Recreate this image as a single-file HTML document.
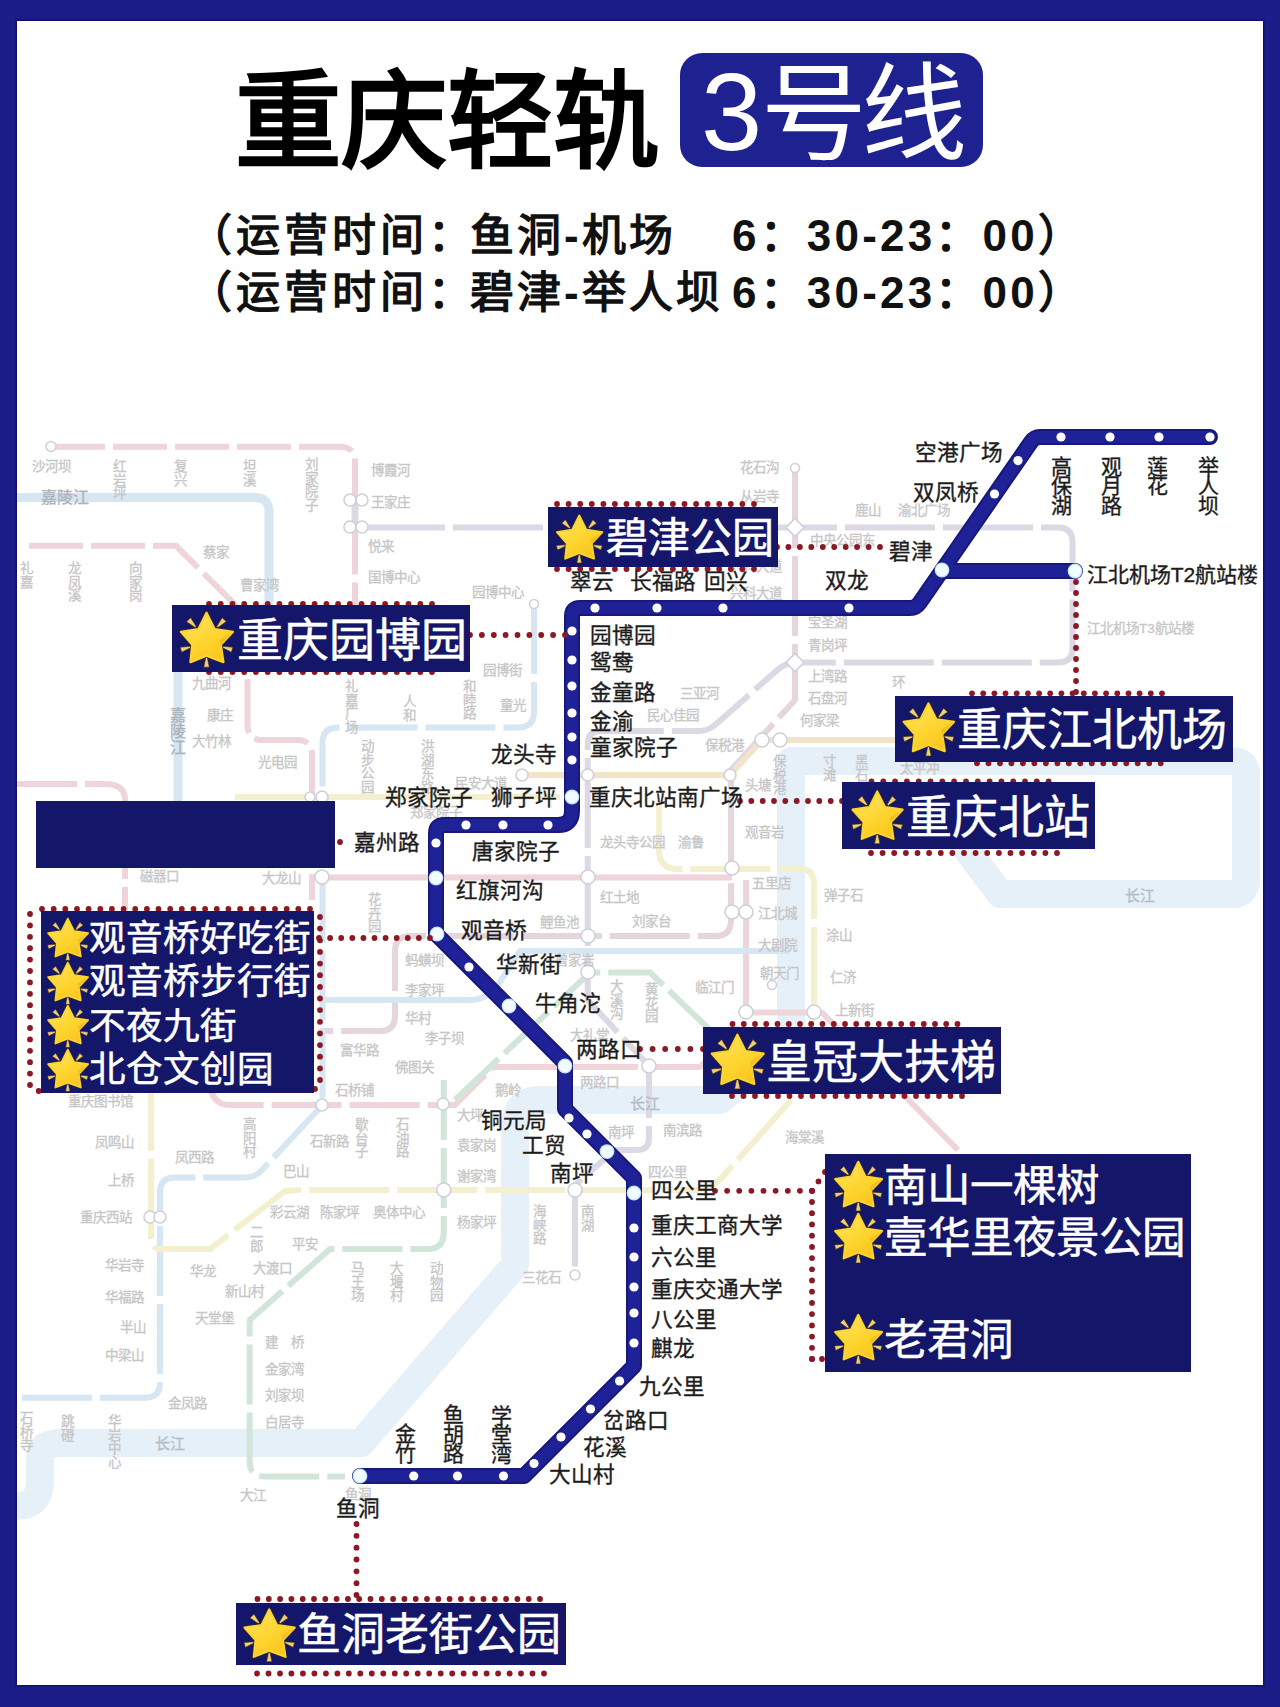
<!DOCTYPE html>
<html lang="zh-CN"><head><meta charset="utf-8">
<style>
html,body{margin:0;padding:0;}
body{width:1280px;height:1707px;position:relative;overflow:hidden;background:#1b1c87;font-family:"Liberation Sans", sans-serif;}
.panel{position:absolute;left:17px;top:21px;width:1246px;height:1664px;background:#fff;box-shadow:0 0 0 1.5px #10106a;}
.t{position:absolute;white-space:nowrap;line-height:1;}
.lb{-webkit-text-stroke:0.35px #1c1c1c;}
.v{text-align:center;}
.w{color:#fff;-webkit-text-stroke:0.5px #fff;}
.box{position:absolute;background:#14166a;}
.st{position:absolute;overflow:visible;}
svg.layer{position:absolute;left:0;top:0;}
.title{position:absolute;left:234.5px;top:70px;font-size:106.5px;font-weight:bold;color:#000;line-height:1;white-space:nowrap;}
.badge{position:absolute;left:680px;top:53px;width:303px;height:114px;border-radius:22px;background:#1e2190;}
.badge span{position:absolute;color:#fff;line-height:1;white-space:nowrap;}
.sub{position:absolute;font-size:44px;letter-spacing:4px;font-weight:bold;color:#111;line-height:1;white-space:nowrap;}
</style></head>
<body>
<div class="panel"></div>
<svg class="layer" width="1280" height="1707" viewBox="0 0 1280 1707"><path d="M17,1506 Q40,1506 40,1480 L40,1458 Q40,1443 60,1443 L361,1443 L515,1265 L515,1128 Q515,1100 540,1100 L720,1100 L791,1040 L791,761 L1232,761 Q1246,761 1246,775 L1246,880 Q1246,894 1232,894 L1000,894 L930,800" fill="none" stroke="#e6f0f8" stroke-width="28" stroke-linejoin="round" stroke-linecap="butt"/><path d="M17,497.5 L255,497.5 Q269,497.5 269,512 L269,605 L178,660 L178,805" fill="none" stroke="#d6e6f2" stroke-width="9" stroke-linejoin="round" stroke-linecap="butt"/><path d="M51,446.75 L340,446.75 Q355,446.75 355,462 L355,610" fill="none" stroke="#efd5da" stroke-width="6" stroke-linejoin="round" stroke-linecap="butt" stroke-dasharray="54 8"/><path d="M29,545.75 L176,545.75 L247.5,617 L247.5,725 Q247.5,740 262,740 L297,740 Q312,740 312,755 L312,900" fill="none" stroke="#efd5da" stroke-width="6" stroke-linejoin="round" stroke-linecap="butt" stroke-dasharray="54 8"/><path d="M17,784 L105,784 Q125,784 125,800 L125,910" fill="none" stroke="#efd5da" stroke-width="6" stroke-linejoin="round" stroke-linecap="butt" stroke-dasharray="60 8"/><path d="M322,877.5 L732,877.5" fill="none" stroke="#efd5da" stroke-width="6" stroke-linejoin="round" stroke-linecap="butt"/><path d="M746,880 L746,1012.5 L822,1012.5 L958,1150" fill="none" stroke="#efd5da" stroke-width="6" stroke-linejoin="round" stroke-linecap="butt"/><path d="M210,1080 Q210,1105 230,1105 L455,1105 L493,1067 L700,1067 L740,1027" fill="none" stroke="#efd5da" stroke-width="6" stroke-linejoin="round" stroke-linecap="butt" stroke-dasharray="70 8"/><path d="M795,468 L795,700 L731,770 L731,920 Q731,936 716,936 L410,936 Q395,936 395,951 L395,1016 Q395,1031 380,1031 L320,1031" fill="none" stroke="#e4d6dc" stroke-width="6" stroke-linejoin="round" stroke-linecap="butt" stroke-dasharray="80 8"/><path d="M355,527.5 L1058,527.5 Q1072.5,527.5 1072.5,542 L1072.5,648 Q1072.5,662.5 1058,662.5 L795,662.5 Q785,662.5 775,672 L715,725 Q708,731 698,731 L600,731 Q587.7,731 587.7,745 L587.7,1000 L649,1066 L649,1138 Q649,1150 637,1150 L615,1150 L575,1185 L575,1275" fill="none" stroke="#dcd9e5" stroke-width="6" stroke-linejoin="round" stroke-linecap="butt" stroke-dasharray="90 8"/><path d="M355,495 L355,527.5" fill="none" stroke="#dcd9e5" stroke-width="7" stroke-linejoin="round" stroke-linecap="butt"/><path d="M534,604 L534,712 Q534,727.5 518,727.5 L338,727.5 Q322.5,727.5 322.5,743 L322.5,1105 L262,1170 Q255,1177.5 245,1177.5 L175,1177.5 Q160,1177.5 160,1192 L160,1383 Q160,1397.7 145,1397.7 L17,1397.7" fill="none" stroke="#d6e6f2" stroke-width="6" stroke-linejoin="round" stroke-linecap="butt" stroke-dasharray="70 8"/><path d="M322,1000 L470,1000 Q488,1000 500,982 L520,951 L790,951" fill="none" stroke="#d6e6f2" stroke-width="6" stroke-linejoin="round" stroke-linecap="butt"/><path d="M522,775 L730,775 L762,740 L900,740" fill="none" stroke="#f2e3cb" stroke-width="6" stroke-linejoin="round" stroke-linecap="butt"/><path d="M235,797 L560,797" fill="none" stroke="#f3efcf" stroke-width="6" stroke-linejoin="round" stroke-linecap="butt"/><path d="M659,805 L659,850 Q659,869 678,869 L800,869 Q814,869 814,884 L814,1012 L791,1100 L725,1174 Q712,1190 695,1190 L300,1190 L285,1191 L210,1249 L160,1249 Q151,1249 151,1235 L151,1080" fill="none" stroke="#f3efcf" stroke-width="6" stroke-linejoin="round" stroke-linecap="butt" stroke-dasharray="80 8"/><path d="M455,1100 L590,972.5 L650,972.5 L710,1030" fill="none" stroke="#d2e5d9" stroke-width="6" stroke-linejoin="round" stroke-linecap="butt" stroke-dasharray="60 8"/><path d="M443.75,1080 L443.75,1232 Q443.75,1249 428,1249 L330,1249 L249.7,1320 L249.7,1462 Q249.7,1476.6 265,1476.6 L345,1476.6" fill="none" stroke="#d2e5d9" stroke-width="6" stroke-linejoin="round" stroke-linecap="butt" stroke-dasharray="60 8"/><circle cx="51" cy="446.5" r="5" fill="#fff" stroke="#cfd0d8" stroke-width="1.6"/><circle cx="350" cy="500" r="6" fill="#fff" stroke="#cfd0d8" stroke-width="1.6"/><circle cx="362" cy="500" r="6" fill="#fff" stroke="#cfd0d8" stroke-width="1.6"/><circle cx="350" cy="527" r="6" fill="#fff" stroke="#cfd0d8" stroke-width="1.6"/><circle cx="362" cy="527" r="6" fill="#fff" stroke="#cfd0d8" stroke-width="1.6"/><circle cx="534" cy="604" r="4.5" fill="#fff" stroke="#cfd0d8" stroke-width="1.6"/><circle cx="795" cy="468" r="4.5" fill="#fff" stroke="#cfd0d8" stroke-width="1.6"/><circle cx="322" cy="797" r="6" fill="#fff" stroke="#cfd0d8" stroke-width="1.6"/><circle cx="310" cy="797" r="5" fill="#fff" stroke="#cfd0d8" stroke-width="1.6"/><circle cx="522" cy="775" r="6" fill="#fff" stroke="#cfd0d8" stroke-width="1.6"/><circle cx="587.7" cy="775" r="6" fill="#fff" stroke="#cfd0d8" stroke-width="1.6"/><circle cx="730" cy="775" r="6" fill="#fff" stroke="#cfd0d8" stroke-width="1.6"/><circle cx="762" cy="740" r="7" fill="#fff" stroke="#cfd0d8" stroke-width="1.6"/><circle cx="780" cy="740" r="7" fill="#fff" stroke="#cfd0d8" stroke-width="1.6"/><circle cx="588" cy="877" r="7" fill="#fff" stroke="#cfd0d8" stroke-width="1.6"/><circle cx="732" cy="868" r="7" fill="#fff" stroke="#cfd0d8" stroke-width="1.6"/><circle cx="588" cy="936" r="7" fill="#fff" stroke="#cfd0d8" stroke-width="1.6"/><circle cx="588" cy="972" r="7" fill="#fff" stroke="#cfd0d8" stroke-width="1.6"/><circle cx="322" cy="877" r="7" fill="#fff" stroke="#cfd0d8" stroke-width="1.6"/><circle cx="746" cy="912" r="7" fill="#fff" stroke="#cfd0d8" stroke-width="1.6"/><circle cx="732" cy="912" r="7" fill="#fff" stroke="#cfd0d8" stroke-width="1.6"/><circle cx="649" cy="1066" r="7" fill="#fff" stroke="#cfd0d8" stroke-width="1.6"/><circle cx="772" cy="985" r="4.5" fill="#fff" stroke="#cfd0d8" stroke-width="1.6"/><circle cx="814" cy="1012" r="7" fill="#fff" stroke="#cfd0d8" stroke-width="1.6"/><circle cx="746" cy="1012" r="7" fill="#fff" stroke="#cfd0d8" stroke-width="1.6"/><circle cx="322" cy="1105" r="6" fill="#fff" stroke="#cfd0d8" stroke-width="1.6"/><circle cx="443" cy="1104" r="6" fill="#fff" stroke="#cfd0d8" stroke-width="1.6"/><circle cx="443.75" cy="1190" r="7" fill="#fff" stroke="#cfd0d8" stroke-width="1.6"/><circle cx="575" cy="1190" r="7" fill="#fff" stroke="#cfd0d8" stroke-width="1.6"/><circle cx="575" cy="1275" r="5" fill="#fff" stroke="#cfd0d8" stroke-width="1.6"/><circle cx="150" cy="1217" r="6" fill="#fff" stroke="#cfd0d8" stroke-width="1.6"/><circle cx="160" cy="1217" r="6" fill="#fff" stroke="#cfd0d8" stroke-width="1.6"/><circle cx="360" cy="1476" r="5" fill="#fff" stroke="#cfd0d8" stroke-width="1.6"/><path d="M795,518.5 L804,527.5 L795,536.5 L786,527.5 Z" fill="#fff" stroke="#d0d0d8" stroke-width="1.6"/><path d="M795,653.5 L804,662.5 L795,671.5 L786,662.5 Z" fill="#fff" stroke="#d0d0d8" stroke-width="1.6"/></svg>
<div class="t" style="left:32px;top:459.7px;font-size:13.5px;color:#c6c6c6;-webkit-text-stroke:0.3px #c6c6c6">沙河坝</div><div class="t v" style="left:113.2px;top:460px;width:13.5px;font-size:13.5px;line-height:13.5px;color:#c6c6c6;-webkit-text-stroke:0.3px #c6c6c6">红<br>岩<br>坪</div><div class="t v" style="left:174.2px;top:460px;width:13.5px;font-size:13.5px;line-height:13.5px;color:#c6c6c6;-webkit-text-stroke:0.3px #c6c6c6">复<br>兴</div><div class="t v" style="left:243.2px;top:460px;width:13.5px;font-size:13.5px;line-height:13.5px;color:#c6c6c6;-webkit-text-stroke:0.3px #c6c6c6">坦<br>溪</div><div class="t v" style="left:305.2px;top:458px;width:13.5px;font-size:13.5px;line-height:13.5px;color:#c6c6c6;-webkit-text-stroke:0.3px #c6c6c6">刘<br>家<br>院<br>子</div><div class="t" style="left:41px;top:489.5px;font-size:16px;color:#aab2ba;-webkit-text-stroke:0.3px #aab2ba">嘉陵江</div><div class="t" style="left:203px;top:545.7px;font-size:13.5px;color:#c6c6c6;-webkit-text-stroke:0.3px #c6c6c6">蔡家</div><div class="t v" style="left:20.2px;top:562px;width:13.5px;font-size:13.5px;line-height:13.5px;color:#c6c6c6;-webkit-text-stroke:0.3px #c6c6c6">礼<br>嘉</div><div class="t v" style="left:68.2px;top:562px;width:13.5px;font-size:13.5px;line-height:13.5px;color:#c6c6c6;-webkit-text-stroke:0.3px #c6c6c6">龙<br>凤<br>溪</div><div class="t v" style="left:129.2px;top:562px;width:13.5px;font-size:13.5px;line-height:13.5px;color:#c6c6c6;-webkit-text-stroke:0.3px #c6c6c6">向<br>家<br>岗</div><div class="t" style="left:240px;top:578.7px;font-size:13.5px;color:#c6c6c6;-webkit-text-stroke:0.3px #c6c6c6">曹家湾</div><div class="t" style="left:371px;top:463.7px;font-size:13.5px;color:#c6c6c6;-webkit-text-stroke:0.3px #c6c6c6">博霞河</div><div class="t" style="left:371px;top:495.7px;font-size:13.5px;color:#c6c6c6;-webkit-text-stroke:0.3px #c6c6c6">王家庄</div><div class="t" style="left:368px;top:539.7px;font-size:13.5px;color:#c6c6c6;-webkit-text-stroke:0.3px #c6c6c6">悦来</div><div class="t" style="left:368px;top:570.7px;font-size:13.5px;color:#c6c6c6;-webkit-text-stroke:0.3px #c6c6c6">国博中心</div><div class="t" style="left:472px;top:585.7px;font-size:13.5px;color:#c6c6c6;-webkit-text-stroke:0.3px #c6c6c6">园博中心</div><div class="t" style="left:740px;top:460.7px;font-size:13.5px;color:#c6c6c6;-webkit-text-stroke:0.3px #c6c6c6">花石沟</div><div class="t" style="left:740px;top:489.7px;font-size:13.5px;color:#c6c6c6;-webkit-text-stroke:0.3px #c6c6c6">从岩寺</div><div class="t" style="left:855px;top:503.7px;font-size:13.5px;color:#c6c6c6;-webkit-text-stroke:0.3px #c6c6c6">鹿山</div><div class="t" style="left:898px;top:503.7px;font-size:13.5px;color:#c6c6c6;-webkit-text-stroke:0.3px #c6c6c6">渝北广场</div><div class="t" style="left:810px;top:533.7px;font-size:13.5px;color:#c6c6c6;-webkit-text-stroke:0.3px #c6c6c6">中央公园东</div><div class="t" style="left:730px;top:559.7px;font-size:13.5px;color:#c6c6c6;-webkit-text-stroke:0.3px #c6c6c6">兴科大道</div><div class="t" style="left:730px;top:586.7px;font-size:13.5px;color:#c6c6c6;-webkit-text-stroke:0.3px #c6c6c6">兴科大道</div><div class="t" style="left:808px;top:615.7px;font-size:13.5px;color:#c6c6c6;-webkit-text-stroke:0.3px #c6c6c6">宝圣湖</div><div class="t" style="left:808px;top:638.7px;font-size:13.5px;color:#c6c6c6;-webkit-text-stroke:0.3px #c6c6c6">青岗坪</div><div class="t" style="left:1087px;top:621.7px;font-size:13.5px;color:#c6c6c6;-webkit-text-stroke:0.3px #c6c6c6">江北机场T3航站楼</div><div class="t" style="left:192px;top:676.7px;font-size:13.5px;color:#c6c6c6;-webkit-text-stroke:0.3px #c6c6c6">九曲河</div><div class="t" style="left:207px;top:708.7px;font-size:13.5px;color:#c6c6c6;-webkit-text-stroke:0.3px #c6c6c6">康庄</div><div class="t" style="left:192px;top:734.7px;font-size:13.5px;color:#c6c6c6;-webkit-text-stroke:0.3px #c6c6c6">大竹林</div><div class="t" style="left:258px;top:755.7px;font-size:13.5px;color:#c6c6c6;-webkit-text-stroke:0.3px #c6c6c6">光电园</div><div class="t v" style="left:170.0px;top:708px;width:16px;font-size:16px;line-height:16px;color:#aab2ba;-webkit-text-stroke:0.3px #aab2ba">嘉<br>陵<br>江</div><div class="t v" style="left:345.2px;top:680px;width:13.5px;font-size:13.5px;line-height:13.5px;color:#c6c6c6;-webkit-text-stroke:0.3px #c6c6c6">礼<br>嘉<br>广<br>场</div><div class="t v" style="left:403.2px;top:695px;width:13.5px;font-size:13.5px;line-height:13.5px;color:#c6c6c6;-webkit-text-stroke:0.3px #c6c6c6">人<br>和</div><div class="t v" style="left:463.2px;top:680px;width:13.5px;font-size:13.5px;line-height:13.5px;color:#c6c6c6;-webkit-text-stroke:0.3px #c6c6c6">和<br>睦<br>路</div><div class="t" style="left:483px;top:663.7px;font-size:13.5px;color:#c6c6c6;-webkit-text-stroke:0.3px #c6c6c6">园博街</div><div class="t" style="left:500px;top:698.7px;font-size:13.5px;color:#c6c6c6;-webkit-text-stroke:0.3px #c6c6c6">童光</div><div class="t v" style="left:361.2px;top:740px;width:13.5px;font-size:13.5px;line-height:13.5px;color:#c6c6c6;-webkit-text-stroke:0.3px #c6c6c6">动<br>步<br>公<br>园</div><div class="t v" style="left:421.2px;top:740px;width:13.5px;font-size:13.5px;line-height:13.5px;color:#c6c6c6;-webkit-text-stroke:0.3px #c6c6c6">洪<br>湖<br>东<br>路</div><div class="t" style="left:455px;top:776.7px;font-size:13.5px;color:#c6c6c6;-webkit-text-stroke:0.3px #c6c6c6">民安大道</div><div class="t" style="left:410px;top:805.7px;font-size:13.5px;color:#c6c6c6;-webkit-text-stroke:0.3px #c6c6c6">郑家院子</div><div class="t" style="left:680px;top:686.7px;font-size:13.5px;color:#c6c6c6;-webkit-text-stroke:0.3px #c6c6c6">三亚河</div><div class="t" style="left:647px;top:708.7px;font-size:13.5px;color:#c6c6c6;-webkit-text-stroke:0.3px #c6c6c6">民心佳园</div><div class="t" style="left:705px;top:738.7px;font-size:13.5px;color:#c6c6c6;-webkit-text-stroke:0.3px #c6c6c6">保税港</div><div class="t" style="left:808px;top:669.7px;font-size:13.5px;color:#c6c6c6;-webkit-text-stroke:0.3px #c6c6c6">上湾路</div><div class="t" style="left:808px;top:691.7px;font-size:13.5px;color:#c6c6c6;-webkit-text-stroke:0.3px #c6c6c6">石盘河</div><div class="t" style="left:800px;top:713.7px;font-size:13.5px;color:#c6c6c6;-webkit-text-stroke:0.3px #c6c6c6">何家梁</div><div class="t" style="left:745px;top:778.7px;font-size:13.5px;color:#c6c6c6;-webkit-text-stroke:0.3px #c6c6c6">头塘</div><div class="t v" style="left:773.2px;top:755px;width:13.5px;font-size:13.5px;line-height:13.5px;color:#c6c6c6;-webkit-text-stroke:0.3px #c6c6c6">保<br>税<br>港</div><div class="t" style="left:745px;top:825.7px;font-size:13.5px;color:#c6c6c6;-webkit-text-stroke:0.3px #c6c6c6">观音岩</div><div class="t" style="left:600px;top:835.7px;font-size:13.5px;color:#c6c6c6;-webkit-text-stroke:0.3px #c6c6c6">龙头寺公园</div><div class="t" style="left:678px;top:835.7px;font-size:13.5px;color:#c6c6c6;-webkit-text-stroke:0.3px #c6c6c6">渝鲁</div><div class="t" style="left:892px;top:675.7px;font-size:13.5px;color:#c6c6c6;-webkit-text-stroke:0.3px #c6c6c6">环</div><div class="t v" style="left:823.2px;top:755px;width:13.5px;font-size:13.5px;line-height:13.5px;color:#c6c6c6;-webkit-text-stroke:0.3px #c6c6c6">寸<br>滩</div><div class="t v" style="left:855.2px;top:755px;width:13.5px;font-size:13.5px;line-height:13.5px;color:#c6c6c6;-webkit-text-stroke:0.3px #c6c6c6">黑<br>石<br>子</div><div class="t" style="left:900px;top:761.7px;font-size:13.5px;color:#c6c6c6;-webkit-text-stroke:0.3px #c6c6c6">太平冲</div><div class="t" style="left:752px;top:876.7px;font-size:13.5px;color:#c6c6c6;-webkit-text-stroke:0.3px #c6c6c6">五里店</div><div class="t" style="left:600px;top:890.7px;font-size:13.5px;color:#c6c6c6;-webkit-text-stroke:0.3px #c6c6c6">红土地</div><div class="t" style="left:632px;top:914.7px;font-size:13.5px;color:#c6c6c6;-webkit-text-stroke:0.3px #c6c6c6">刘家台</div><div class="t" style="left:758px;top:906.7px;font-size:13.5px;color:#c6c6c6;-webkit-text-stroke:0.3px #c6c6c6">江北城</div><div class="t" style="left:824px;top:888.7px;font-size:13.5px;color:#c6c6c6;-webkit-text-stroke:0.3px #c6c6c6">弹子石</div><div class="t" style="left:758px;top:938.7px;font-size:13.5px;color:#c6c6c6;-webkit-text-stroke:0.3px #c6c6c6">大剧院</div><div class="t" style="left:826px;top:928.7px;font-size:13.5px;color:#c6c6c6;-webkit-text-stroke:0.3px #c6c6c6">涂山</div><div class="t" style="left:760px;top:966.7px;font-size:13.5px;color:#c6c6c6;-webkit-text-stroke:0.3px #c6c6c6">朝天门</div><div class="t" style="left:830px;top:970.7px;font-size:13.5px;color:#c6c6c6;-webkit-text-stroke:0.3px #c6c6c6">仁济</div><div class="t" style="left:695px;top:980.7px;font-size:13.5px;color:#c6c6c6;-webkit-text-stroke:0.3px #c6c6c6">临江门</div><div class="t v" style="left:610.2px;top:980px;width:13.5px;font-size:13.5px;line-height:13.5px;color:#c6c6c6;-webkit-text-stroke:0.3px #c6c6c6">大<br>溪<br>沟</div><div class="t v" style="left:645.2px;top:983px;width:13.5px;font-size:13.5px;line-height:13.5px;color:#c6c6c6;-webkit-text-stroke:0.3px #c6c6c6">黄<br>花<br>园</div><div class="t" style="left:835px;top:1003.7px;font-size:13.5px;color:#c6c6c6;-webkit-text-stroke:0.3px #c6c6c6">上新街</div><div class="t" style="left:570px;top:1028.7px;font-size:13.5px;color:#c6c6c6;-webkit-text-stroke:0.3px #c6c6c6">大礼堂</div><div class="t" style="left:140px;top:869.7px;font-size:13.5px;color:#c6c6c6;-webkit-text-stroke:0.3px #c6c6c6">磁器口</div><div class="t" style="left:262px;top:871.7px;font-size:13.5px;color:#c6c6c6;-webkit-text-stroke:0.3px #c6c6c6">大龙山</div><div class="t v" style="left:368.2px;top:893px;width:13.5px;font-size:13.5px;line-height:13.5px;color:#c6c6c6;-webkit-text-stroke:0.3px #c6c6c6">花<br>卉<br>园</div><div class="t" style="left:540px;top:915.7px;font-size:13.5px;color:#c6c6c6;-webkit-text-stroke:0.3px #c6c6c6">鲤鱼池</div><div class="t" style="left:1125px;top:888.0px;font-size:15px;color:#b4bcc4;-webkit-text-stroke:0.3px #b4bcc4">长江</div><div class="t" style="left:405px;top:953.7px;font-size:13.5px;color:#c6c6c6;-webkit-text-stroke:0.3px #c6c6c6">蚂蟥坝</div><div class="t" style="left:405px;top:983.7px;font-size:13.5px;color:#c6c6c6;-webkit-text-stroke:0.3px #c6c6c6">李家坪</div><div class="t" style="left:405px;top:1011.7px;font-size:13.5px;color:#c6c6c6;-webkit-text-stroke:0.3px #c6c6c6">华村</div><div class="t" style="left:425px;top:1031.7px;font-size:13.5px;color:#c6c6c6;-webkit-text-stroke:0.3px #c6c6c6">李子坝</div><div class="t" style="left:555px;top:953.7px;font-size:13.5px;color:#c6c6c6;-webkit-text-stroke:0.3px #c6c6c6">曾家岩</div><div class="t" style="left:340px;top:1043.7px;font-size:13.5px;color:#c6c6c6;-webkit-text-stroke:0.3px #c6c6c6">富华路</div><div class="t" style="left:395px;top:1060.7px;font-size:13.5px;color:#c6c6c6;-webkit-text-stroke:0.3px #c6c6c6">佛图关</div><div class="t" style="left:335px;top:1083.7px;font-size:13.5px;color:#c6c6c6;-webkit-text-stroke:0.3px #c6c6c6">石桥铺</div><div class="t" style="left:495px;top:1083.7px;font-size:13.5px;color:#c6c6c6;-webkit-text-stroke:0.3px #c6c6c6">鹅岭</div><div class="t" style="left:580px;top:1075.7px;font-size:13.5px;color:#c6c6c6;-webkit-text-stroke:0.3px #c6c6c6">两路口</div><div class="t" style="left:68px;top:1094.7px;font-size:13.5px;color:#c6c6c6;-webkit-text-stroke:0.3px #c6c6c6">重庆图书馆</div><div class="t" style="left:95px;top:1135.7px;font-size:13.5px;color:#c6c6c6;-webkit-text-stroke:0.3px #c6c6c6">凤鸣山</div><div class="t" style="left:108px;top:1173.7px;font-size:13.5px;color:#c6c6c6;-webkit-text-stroke:0.3px #c6c6c6">上桥</div><div class="t" style="left:80px;top:1210.7px;font-size:13.5px;color:#c6c6c6;-webkit-text-stroke:0.3px #c6c6c6">重庆西站</div><div class="t" style="left:105px;top:1258.7px;font-size:13.5px;color:#c6c6c6;-webkit-text-stroke:0.3px #c6c6c6">华岩寺</div><div class="t" style="left:105px;top:1290.7px;font-size:13.5px;color:#c6c6c6;-webkit-text-stroke:0.3px #c6c6c6">华福路</div><div class="t" style="left:175px;top:1150.7px;font-size:13.5px;color:#c6c6c6;-webkit-text-stroke:0.3px #c6c6c6">凤西路</div><div class="t v" style="left:243.2px;top:1118px;width:13.5px;font-size:13.5px;line-height:13.5px;color:#c6c6c6;-webkit-text-stroke:0.3px #c6c6c6">高<br>阳<br>村</div><div class="t" style="left:283px;top:1164.7px;font-size:13.5px;color:#c6c6c6;-webkit-text-stroke:0.3px #c6c6c6">巴山</div><div class="t" style="left:270px;top:1205.7px;font-size:13.5px;color:#c6c6c6;-webkit-text-stroke:0.3px #c6c6c6">彩云湖</div><div class="t v" style="left:250.2px;top:1226px;width:13.5px;font-size:13.5px;line-height:13.5px;color:#c6c6c6;-webkit-text-stroke:0.3px #c6c6c6">二<br>郎</div><div class="t" style="left:292px;top:1237.7px;font-size:13.5px;color:#c6c6c6;-webkit-text-stroke:0.3px #c6c6c6">平安</div><div class="t" style="left:190px;top:1264.7px;font-size:13.5px;color:#c6c6c6;-webkit-text-stroke:0.3px #c6c6c6">华龙</div><div class="t" style="left:253px;top:1261.7px;font-size:13.5px;color:#c6c6c6;-webkit-text-stroke:0.3px #c6c6c6">大渡口</div><div class="t" style="left:225px;top:1284.7px;font-size:13.5px;color:#c6c6c6;-webkit-text-stroke:0.3px #c6c6c6">新山村</div><div class="t" style="left:195px;top:1311.7px;font-size:13.5px;color:#c6c6c6;-webkit-text-stroke:0.3px #c6c6c6">天堂堡</div><div class="t" style="left:310px;top:1134.7px;font-size:13.5px;color:#c6c6c6;-webkit-text-stroke:0.3px #c6c6c6">石新路</div><div class="t v" style="left:355.2px;top:1118px;width:13.5px;font-size:13.5px;line-height:13.5px;color:#c6c6c6;-webkit-text-stroke:0.3px #c6c6c6">歇<br>台<br>子</div><div class="t v" style="left:396.2px;top:1118px;width:13.5px;font-size:13.5px;line-height:13.5px;color:#c6c6c6;-webkit-text-stroke:0.3px #c6c6c6">石<br>油<br>路</div><div class="t" style="left:457px;top:1108.7px;font-size:13.5px;color:#c6c6c6;-webkit-text-stroke:0.3px #c6c6c6">大坪</div><div class="t" style="left:457px;top:1138.7px;font-size:13.5px;color:#c6c6c6;-webkit-text-stroke:0.3px #c6c6c6">袁家岗</div><div class="t" style="left:457px;top:1169.7px;font-size:13.5px;color:#c6c6c6;-webkit-text-stroke:0.3px #c6c6c6">谢家湾</div><div class="t" style="left:457px;top:1215.7px;font-size:13.5px;color:#c6c6c6;-webkit-text-stroke:0.3px #c6c6c6">杨家坪</div><div class="t" style="left:320px;top:1205.7px;font-size:13.5px;color:#c6c6c6;-webkit-text-stroke:0.3px #c6c6c6">陈家坪</div><div class="t" style="left:373px;top:1205.7px;font-size:13.5px;color:#c6c6c6;-webkit-text-stroke:0.3px #c6c6c6">奥体中心</div><div class="t v" style="left:351.2px;top:1262px;width:13.5px;font-size:13.5px;line-height:13.5px;color:#c6c6c6;-webkit-text-stroke:0.3px #c6c6c6">马<br>王<br>场</div><div class="t v" style="left:390.2px;top:1262px;width:13.5px;font-size:13.5px;line-height:13.5px;color:#c6c6c6;-webkit-text-stroke:0.3px #c6c6c6">大<br>堰<br>村</div><div class="t v" style="left:430.2px;top:1262px;width:13.5px;font-size:13.5px;line-height:13.5px;color:#c6c6c6;-webkit-text-stroke:0.3px #c6c6c6">动<br>物<br>园</div><div class="t v" style="left:533.2px;top:1205px;width:13.5px;font-size:13.5px;line-height:13.5px;color:#c6c6c6;-webkit-text-stroke:0.3px #c6c6c6">海<br>峡<br>路</div><div class="t v" style="left:581.2px;top:1205px;width:13.5px;font-size:13.5px;line-height:13.5px;color:#c6c6c6;-webkit-text-stroke:0.3px #c6c6c6">南<br>湖</div><div class="t" style="left:522px;top:1270.7px;font-size:13.5px;color:#c6c6c6;-webkit-text-stroke:0.3px #c6c6c6">三花石</div><div class="t" style="left:630px;top:1096.0px;font-size:15px;color:#b4bcc4;-webkit-text-stroke:0.3px #b4bcc4">长江</div><div class="t" style="left:608px;top:1125.7px;font-size:13.5px;color:#c6c6c6;-webkit-text-stroke:0.3px #c6c6c6">南坪</div><div class="t" style="left:663px;top:1123.7px;font-size:13.5px;color:#c6c6c6;-webkit-text-stroke:0.3px #c6c6c6">南滨路</div><div class="t" style="left:785px;top:1130.7px;font-size:13.5px;color:#c6c6c6;-webkit-text-stroke:0.3px #c6c6c6">海棠溪</div><div class="t" style="left:648px;top:1165.7px;font-size:13.5px;color:#c6c6c6;-webkit-text-stroke:0.3px #c6c6c6">四公里</div><div class="t" style="left:120px;top:1320.7px;font-size:13.5px;color:#c6c6c6;-webkit-text-stroke:0.3px #c6c6c6">半山</div><div class="t" style="left:105px;top:1348.7px;font-size:13.5px;color:#c6c6c6;-webkit-text-stroke:0.3px #c6c6c6">中梁山</div><div class="t" style="left:168px;top:1396.7px;font-size:13.5px;color:#c6c6c6;-webkit-text-stroke:0.3px #c6c6c6">金凤路</div><div class="t v" style="left:20.2px;top:1412px;width:13.5px;font-size:13.5px;line-height:13.5px;color:#c6c6c6;-webkit-text-stroke:0.3px #c6c6c6">石<br>桥<br>寺</div><div class="t v" style="left:61.2px;top:1415px;width:13.5px;font-size:13.5px;line-height:13.5px;color:#c6c6c6;-webkit-text-stroke:0.3px #c6c6c6">跳<br>磴</div><div class="t v" style="left:108.2px;top:1415px;width:13.5px;font-size:13.5px;line-height:13.5px;color:#c6c6c6;-webkit-text-stroke:0.3px #c6c6c6">华<br>岩<br>中<br>心</div><div class="t" style="left:155px;top:1436.0px;font-size:15px;color:#b4bcc4;-webkit-text-stroke:0.3px #b4bcc4">长江</div><div class="t" style="left:265px;top:1335.7px;font-size:13.5px;color:#c6c6c6;-webkit-text-stroke:0.3px #c6c6c6">建　桥</div><div class="t" style="left:265px;top:1362.7px;font-size:13.5px;color:#c6c6c6;-webkit-text-stroke:0.3px #c6c6c6">金家湾</div><div class="t" style="left:265px;top:1388.7px;font-size:13.5px;color:#c6c6c6;-webkit-text-stroke:0.3px #c6c6c6">刘家坝</div><div class="t" style="left:265px;top:1415.7px;font-size:13.5px;color:#c6c6c6;-webkit-text-stroke:0.3px #c6c6c6">白居寺</div><div class="t" style="left:240px;top:1488.7px;font-size:13.5px;color:#c6c6c6;-webkit-text-stroke:0.3px #c6c6c6">大江</div><div class="t" style="left:345px;top:1487.7px;font-size:13.5px;color:#c6c6c6;-webkit-text-stroke:0.3px #c6c6c6">鱼洞</div>
<svg width="0" height="0" style="position:absolute"><symbol id="star" viewBox="0 0 1280 1280">
<defs><linearGradient id="sg" x1="0.2" y1="0" x2="0.8" y2="1"><stop offset="0" stop-color="#ffe45c"/><stop offset="0.6" stop-color="#fdd32b"/><stop offset="1" stop-color="#f7c21d"/></linearGradient></defs>
<g fill="#f2cf72" stroke="#3a2c14" stroke-width="12" stroke-linejoin="round"><path d="M255,353 L419,465 L441,445 L335,277 Z"/><path d="M930,278 L829,445 L851,465 L1010,352 Z"/><path d="M163,933 L334,849 L326,821 L137,837 Z"/><path d="M1134,837 L949,821 L941,849 L1106,933 Z"/><path d="M688,1215 L650,1030 L620,1030 L582,1215 Z"/></g>
<path d="M635,185 L790,495 L1135,545 L905,790 L955,1120 L635,1000 L330,1120 L365,790 L150,545 L480,495 Z" fill="url(#sg)" stroke="#3a2c14" stroke-width="64" stroke-linejoin="round"/>
<path d="M635,185 L790,495 L1135,545 L905,790 L955,1120 L635,1000 L330,1120 L365,790 L150,545 L480,495 Z" fill="url(#sg)" stroke="#fbd437" stroke-width="42" stroke-linejoin="round"/>
<path d="M1135,545 L905,790 L955,1120 L880,700 Z" fill="#e8a816" opacity="0.45"/>
</symbol></svg>
<div class="title">重庆轻轨</div>
<div class="badge"><span style="left:21px;top:3.6px;font-size:110px;font-weight:500">3</span><span style="left:80.5px;top:7.6px;font-size:106px;font-weight:500">号</span><span style="left:181.4px;top:8px;font-size:106px;font-weight:500">线</span></div>
<div class="sub" style="left:188px;top:214px;">（运营时间：</div><div class="sub" style="left:470px;top:214px;letter-spacing:3px">鱼洞-机场</div><div class="sub" style="left:732px;top:214px;letter-spacing:3.2px">6：30-23：00）</div>
<div class="sub" style="left:188px;top:271px;">（运营时间：</div><div class="sub" style="left:470px;top:271px;letter-spacing:3px">碧津-举人坝</div><div class="sub" style="left:732px;top:271px;letter-spacing:3.2px">6：30-23：00）</div>
<svg class="layer" width="1280" height="1707" viewBox="0 0 1280 1707"><path d="M1210,437 L1040,437 Q1034.4,437 1031,442 L919.5,603 Q916,608 910,608 L580,608 Q572,608 572,616 L572,811 Q572,825 558,825 L444,825 Q436,825 436,833 L436,934 L565,1063 L565,1109 L634,1178 L634,1366 L524,1476 L360,1476" fill="none" stroke="#17187a" stroke-width="16" stroke-linejoin="round" stroke-linecap="round"/><path d="M942,571 L1075,571" fill="none" stroke="#17187a" stroke-width="16" stroke-linecap="round"/><path d="M1210,437 L1040,437 Q1034.4,437 1031,442 L919.5,603 Q916,608 910,608 L580,608 Q572,608 572,616 L572,811 Q572,825 558,825 L444,825 Q436,825 436,833 L436,934 L565,1063 L565,1109 L634,1178 L634,1366 L524,1476 L360,1476" fill="none" stroke="#1f2196" stroke-width="12" stroke-linejoin="round" stroke-linecap="round"/><path d="M942,571 L1075,571" fill="none" stroke="#1f2196" stroke-width="12" stroke-linecap="round"/><circle cx="1061" cy="437" r="4.6" fill="#fff"/><circle cx="1110" cy="437" r="4.6" fill="#fff"/><circle cx="1159" cy="437" r="4.6" fill="#fff"/><circle cx="1210" cy="437" r="4.6" fill="#fff"/><circle cx="1018" cy="460.6" r="4.6" fill="#fff"/><circle cx="994.5" cy="494" r="4.6" fill="#fff"/><circle cx="595" cy="608" r="4.6" fill="#fff"/><circle cx="657" cy="608" r="4.6" fill="#fff"/><circle cx="723" cy="608" r="4.6" fill="#fff"/><circle cx="849" cy="608" r="4.6" fill="#fff"/><circle cx="572" cy="631" r="4.6" fill="#fff"/><circle cx="572" cy="660" r="4.6" fill="#fff"/><circle cx="572" cy="686" r="4.6" fill="#fff"/><circle cx="572" cy="713" r="4.6" fill="#fff"/><circle cx="572" cy="737" r="4.6" fill="#fff"/><circle cx="572" cy="760" r="4.6" fill="#fff"/><circle cx="548" cy="825" r="4.6" fill="#fff"/><circle cx="503" cy="825" r="4.6" fill="#fff"/><circle cx="466" cy="825" r="4.6" fill="#fff"/><circle cx="436" cy="843" r="4.6" fill="#fff"/><circle cx="469" cy="967" r="4.6" fill="#fff"/><circle cx="569" cy="1118" r="4.6" fill="#fff"/><circle cx="587" cy="1134" r="4.6" fill="#fff"/><circle cx="634" cy="1228" r="4.6" fill="#fff"/><circle cx="634" cy="1257" r="4.6" fill="#fff"/><circle cx="634" cy="1287" r="4.6" fill="#fff"/><circle cx="634" cy="1313" r="4.6" fill="#fff"/><circle cx="634" cy="1343" r="4.6" fill="#fff"/><circle cx="619.6" cy="1381" r="4.6" fill="#fff"/><circle cx="590.5" cy="1409" r="4.6" fill="#fff"/><circle cx="561" cy="1437" r="4.6" fill="#fff"/><circle cx="534" cy="1463.5" r="4.6" fill="#fff"/><circle cx="503.5" cy="1476" r="4.6" fill="#fff"/><circle cx="457.5" cy="1476" r="4.6" fill="#fff"/><circle cx="413.7" cy="1476" r="4.6" fill="#fff"/><circle cx="942" cy="570" r="7.4" fill="#bfe5f6"/><circle cx="942" cy="570" r="6.2" fill="#f2fbff"/><circle cx="1075" cy="571" r="7.4" fill="#bfe5f6"/><circle cx="1075" cy="571" r="6.2" fill="#f2fbff"/><circle cx="572" cy="797" r="7.4" fill="#bfe5f6"/><circle cx="572" cy="797" r="6.2" fill="#f2fbff"/><circle cx="436" cy="878" r="7.4" fill="#bfe5f6"/><circle cx="436" cy="878" r="6.2" fill="#f2fbff"/><circle cx="437" cy="934" r="7.4" fill="#bfe5f6"/><circle cx="437" cy="934" r="6.2" fill="#f2fbff"/><circle cx="509" cy="1006" r="7.4" fill="#bfe5f6"/><circle cx="509" cy="1006" r="6.2" fill="#f2fbff"/><circle cx="565" cy="1066" r="7.4" fill="#bfe5f6"/><circle cx="565" cy="1066" r="6.2" fill="#f2fbff"/><circle cx="607" cy="1151.6" r="7.4" fill="#bfe5f6"/><circle cx="607" cy="1151.6" r="6.2" fill="#f2fbff"/><circle cx="634" cy="1193" r="7.4" fill="#bfe5f6"/><circle cx="634" cy="1193" r="6.2" fill="#f2fbff"/><circle cx="360" cy="1476" r="7.4" fill="#bfe5f6"/><circle cx="360" cy="1476" r="6.2" fill="#f2fbff"/><g fill="#8c1825"><circle cx="557.0" cy="504.0" r="2.9"/><circle cx="568.6" cy="504.0" r="2.9"/><circle cx="580.2" cy="504.0" r="2.9"/><circle cx="591.8" cy="504.0" r="2.9"/><circle cx="603.4" cy="504.0" r="2.9"/><circle cx="614.9" cy="504.0" r="2.9"/><circle cx="626.5" cy="504.0" r="2.9"/><circle cx="638.1" cy="504.0" r="2.9"/><circle cx="649.7" cy="504.0" r="2.9"/><circle cx="661.3" cy="504.0" r="2.9"/><circle cx="672.9" cy="504.0" r="2.9"/><circle cx="684.5" cy="504.0" r="2.9"/><circle cx="696.1" cy="504.0" r="2.9"/><circle cx="707.6" cy="504.0" r="2.9"/><circle cx="719.2" cy="504.0" r="2.9"/><circle cx="730.8" cy="504.0" r="2.9"/><circle cx="742.4" cy="504.0" r="2.9"/><circle cx="754.0" cy="504.0" r="2.9"/><circle cx="557.0" cy="569.0" r="2.9"/><circle cx="568.6" cy="569.0" r="2.9"/><circle cx="580.2" cy="569.0" r="2.9"/><circle cx="591.8" cy="569.0" r="2.9"/><circle cx="603.4" cy="569.0" r="2.9"/><circle cx="614.9" cy="569.0" r="2.9"/><circle cx="626.5" cy="569.0" r="2.9"/><circle cx="638.1" cy="569.0" r="2.9"/><circle cx="649.7" cy="569.0" r="2.9"/><circle cx="661.3" cy="569.0" r="2.9"/><circle cx="672.9" cy="569.0" r="2.9"/><circle cx="684.5" cy="569.0" r="2.9"/><circle cx="696.1" cy="569.0" r="2.9"/><circle cx="707.6" cy="569.0" r="2.9"/><circle cx="719.2" cy="569.0" r="2.9"/><circle cx="730.8" cy="569.0" r="2.9"/><circle cx="742.4" cy="569.0" r="2.9"/><circle cx="754.0" cy="569.0" r="2.9"/><circle cx="777.0" cy="547.0" r="2.9"/><circle cx="788.4" cy="547.0" r="2.9"/><circle cx="799.9" cy="547.0" r="2.9"/><circle cx="811.3" cy="547.0" r="2.9"/><circle cx="822.8" cy="547.0" r="2.9"/><circle cx="834.2" cy="547.0" r="2.9"/><circle cx="845.7" cy="547.0" r="2.9"/><circle cx="857.1" cy="547.0" r="2.9"/><circle cx="868.6" cy="547.0" r="2.9"/><circle cx="880.0" cy="547.0" r="2.9"/><circle cx="209.0" cy="604.0" r="2.9"/><circle cx="220.7" cy="604.0" r="2.9"/><circle cx="232.5" cy="604.0" r="2.9"/><circle cx="244.2" cy="604.0" r="2.9"/><circle cx="255.9" cy="604.0" r="2.9"/><circle cx="267.7" cy="604.0" r="2.9"/><circle cx="279.4" cy="604.0" r="2.9"/><circle cx="291.2" cy="604.0" r="2.9"/><circle cx="302.9" cy="604.0" r="2.9"/><circle cx="314.6" cy="604.0" r="2.9"/><circle cx="326.4" cy="604.0" r="2.9"/><circle cx="338.1" cy="604.0" r="2.9"/><circle cx="349.8" cy="604.0" r="2.9"/><circle cx="361.6" cy="604.0" r="2.9"/><circle cx="373.3" cy="604.0" r="2.9"/><circle cx="385.1" cy="604.0" r="2.9"/><circle cx="396.8" cy="604.0" r="2.9"/><circle cx="408.5" cy="604.0" r="2.9"/><circle cx="420.3" cy="604.0" r="2.9"/><circle cx="432.0" cy="604.0" r="2.9"/><circle cx="209.0" cy="672.0" r="2.9"/><circle cx="220.7" cy="672.0" r="2.9"/><circle cx="232.5" cy="672.0" r="2.9"/><circle cx="244.2" cy="672.0" r="2.9"/><circle cx="255.9" cy="672.0" r="2.9"/><circle cx="267.7" cy="672.0" r="2.9"/><circle cx="279.4" cy="672.0" r="2.9"/><circle cx="291.2" cy="672.0" r="2.9"/><circle cx="302.9" cy="672.0" r="2.9"/><circle cx="314.6" cy="672.0" r="2.9"/><circle cx="326.4" cy="672.0" r="2.9"/><circle cx="338.1" cy="672.0" r="2.9"/><circle cx="349.8" cy="672.0" r="2.9"/><circle cx="361.6" cy="672.0" r="2.9"/><circle cx="373.3" cy="672.0" r="2.9"/><circle cx="385.1" cy="672.0" r="2.9"/><circle cx="396.8" cy="672.0" r="2.9"/><circle cx="408.5" cy="672.0" r="2.9"/><circle cx="420.3" cy="672.0" r="2.9"/><circle cx="432.0" cy="672.0" r="2.9"/><circle cx="470.0" cy="635.0" r="2.9"/><circle cx="481.9" cy="635.0" r="2.9"/><circle cx="493.8" cy="635.0" r="2.9"/><circle cx="505.6" cy="635.0" r="2.9"/><circle cx="517.5" cy="635.0" r="2.9"/><circle cx="529.4" cy="635.0" r="2.9"/><circle cx="541.2" cy="635.0" r="2.9"/><circle cx="553.1" cy="635.0" r="2.9"/><circle cx="565.0" cy="635.0" r="2.9"/><circle cx="1076.0" cy="582.0" r="2.9"/><circle cx="1076.0" cy="593.0" r="2.9"/><circle cx="1076.0" cy="604.0" r="2.9"/><circle cx="1076.0" cy="615.0" r="2.9"/><circle cx="1076.0" cy="626.0" r="2.9"/><circle cx="1076.0" cy="637.0" r="2.9"/><circle cx="1076.0" cy="648.0" r="2.9"/><circle cx="1076.0" cy="659.0" r="2.9"/><circle cx="1076.0" cy="670.0" r="2.9"/><circle cx="1076.0" cy="681.0" r="2.9"/><circle cx="1076.0" cy="692.0" r="2.9"/><circle cx="972.0" cy="693.3" r="2.9"/><circle cx="983.2" cy="693.3" r="2.9"/><circle cx="994.4" cy="693.3" r="2.9"/><circle cx="1005.5" cy="693.3" r="2.9"/><circle cx="1016.7" cy="693.3" r="2.9"/><circle cx="1027.9" cy="693.3" r="2.9"/><circle cx="1039.1" cy="693.3" r="2.9"/><circle cx="1050.2" cy="693.3" r="2.9"/><circle cx="1061.4" cy="693.3" r="2.9"/><circle cx="1072.6" cy="693.3" r="2.9"/><circle cx="1083.8" cy="693.3" r="2.9"/><circle cx="1094.9" cy="693.3" r="2.9"/><circle cx="1106.1" cy="693.3" r="2.9"/><circle cx="1117.3" cy="693.3" r="2.9"/><circle cx="1128.5" cy="693.3" r="2.9"/><circle cx="1139.6" cy="693.3" r="2.9"/><circle cx="1150.8" cy="693.3" r="2.9"/><circle cx="1162.0" cy="693.3" r="2.9"/><circle cx="977.0" cy="763.3" r="2.9"/><circle cx="988.5" cy="763.3" r="2.9"/><circle cx="1000.0" cy="763.3" r="2.9"/><circle cx="1011.4" cy="763.3" r="2.9"/><circle cx="1022.9" cy="763.3" r="2.9"/><circle cx="1034.4" cy="763.3" r="2.9"/><circle cx="1045.9" cy="763.3" r="2.9"/><circle cx="1057.4" cy="763.3" r="2.9"/><circle cx="1068.8" cy="763.3" r="2.9"/><circle cx="1080.3" cy="763.3" r="2.9"/><circle cx="1091.8" cy="763.3" r="2.9"/><circle cx="1103.3" cy="763.3" r="2.9"/><circle cx="1114.8" cy="763.3" r="2.9"/><circle cx="1126.3" cy="763.3" r="2.9"/><circle cx="1137.7" cy="763.3" r="2.9"/><circle cx="1149.2" cy="763.3" r="2.9"/><circle cx="1160.7" cy="763.3" r="2.9"/><circle cx="740.0" cy="801.0" r="2.9"/><circle cx="751.3" cy="801.0" r="2.9"/><circle cx="762.7" cy="801.0" r="2.9"/><circle cx="774.0" cy="801.0" r="2.9"/><circle cx="785.3" cy="801.0" r="2.9"/><circle cx="796.7" cy="801.0" r="2.9"/><circle cx="808.0" cy="801.0" r="2.9"/><circle cx="819.3" cy="801.0" r="2.9"/><circle cx="830.7" cy="801.0" r="2.9"/><circle cx="842.0" cy="801.0" r="2.9"/><circle cx="871.5" cy="781.4" r="2.9"/><circle cx="883.3" cy="781.4" r="2.9"/><circle cx="895.1" cy="781.4" r="2.9"/><circle cx="906.9" cy="781.4" r="2.9"/><circle cx="918.7" cy="781.4" r="2.9"/><circle cx="930.5" cy="781.4" r="2.9"/><circle cx="942.3" cy="781.4" r="2.9"/><circle cx="954.1" cy="781.4" r="2.9"/><circle cx="966.0" cy="781.4" r="2.9"/><circle cx="977.8" cy="781.4" r="2.9"/><circle cx="989.6" cy="781.4" r="2.9"/><circle cx="1001.4" cy="781.4" r="2.9"/><circle cx="1013.2" cy="781.4" r="2.9"/><circle cx="1025.0" cy="781.4" r="2.9"/><circle cx="1036.8" cy="781.4" r="2.9"/><circle cx="1048.6" cy="781.4" r="2.9"/><circle cx="871.0" cy="853.0" r="2.9"/><circle cx="882.6" cy="853.0" r="2.9"/><circle cx="894.2" cy="853.0" r="2.9"/><circle cx="905.9" cy="853.0" r="2.9"/><circle cx="917.5" cy="853.0" r="2.9"/><circle cx="929.1" cy="853.0" r="2.9"/><circle cx="940.8" cy="853.0" r="2.9"/><circle cx="952.4" cy="853.0" r="2.9"/><circle cx="964.0" cy="853.0" r="2.9"/><circle cx="975.6" cy="853.0" r="2.9"/><circle cx="987.2" cy="853.0" r="2.9"/><circle cx="998.9" cy="853.0" r="2.9"/><circle cx="1010.5" cy="853.0" r="2.9"/><circle cx="1022.1" cy="853.0" r="2.9"/><circle cx="1033.8" cy="853.0" r="2.9"/><circle cx="1045.4" cy="853.0" r="2.9"/><circle cx="1057.0" cy="853.0" r="2.9"/><circle cx="340" cy="842" r="2.9"/><circle cx="42.0" cy="909.0" r="2.9"/><circle cx="53.7" cy="909.0" r="2.9"/><circle cx="65.3" cy="909.0" r="2.9"/><circle cx="77.0" cy="909.0" r="2.9"/><circle cx="88.6" cy="909.0" r="2.9"/><circle cx="100.3" cy="909.0" r="2.9"/><circle cx="111.9" cy="909.0" r="2.9"/><circle cx="123.6" cy="909.0" r="2.9"/><circle cx="135.2" cy="909.0" r="2.9"/><circle cx="146.9" cy="909.0" r="2.9"/><circle cx="158.5" cy="909.0" r="2.9"/><circle cx="170.2" cy="909.0" r="2.9"/><circle cx="181.8" cy="909.0" r="2.9"/><circle cx="193.5" cy="909.0" r="2.9"/><circle cx="205.1" cy="909.0" r="2.9"/><circle cx="216.8" cy="909.0" r="2.9"/><circle cx="228.4" cy="909.0" r="2.9"/><circle cx="240.1" cy="909.0" r="2.9"/><circle cx="251.7" cy="909.0" r="2.9"/><circle cx="263.4" cy="909.0" r="2.9"/><circle cx="275.0" cy="909.0" r="2.9"/><circle cx="286.7" cy="909.0" r="2.9"/><circle cx="298.3" cy="909.0" r="2.9"/><circle cx="310.0" cy="909.0" r="2.9"/><circle cx="30.0" cy="914.0" r="2.9"/><circle cx="30.0" cy="925.4" r="2.9"/><circle cx="30.0" cy="936.8" r="2.9"/><circle cx="30.0" cy="948.2" r="2.9"/><circle cx="30.0" cy="959.6" r="2.9"/><circle cx="30.0" cy="971.0" r="2.9"/><circle cx="30.0" cy="982.4" r="2.9"/><circle cx="30.0" cy="993.8" r="2.9"/><circle cx="30.0" cy="1005.2" r="2.9"/><circle cx="30.0" cy="1016.6" r="2.9"/><circle cx="30.0" cy="1028.0" r="2.9"/><circle cx="30.0" cy="1039.4" r="2.9"/><circle cx="30.0" cy="1050.8" r="2.9"/><circle cx="30.0" cy="1062.2" r="2.9"/><circle cx="30.0" cy="1073.6" r="2.9"/><circle cx="30.0" cy="1085.0" r="2.9"/><circle cx="320.0" cy="917.0" r="2.9"/><circle cx="320.0" cy="928.6" r="2.9"/><circle cx="320.0" cy="940.3" r="2.9"/><circle cx="320.0" cy="951.9" r="2.9"/><circle cx="320.0" cy="963.6" r="2.9"/><circle cx="320.0" cy="975.2" r="2.9"/><circle cx="320.0" cy="986.9" r="2.9"/><circle cx="320.0" cy="998.5" r="2.9"/><circle cx="320.0" cy="1010.1" r="2.9"/><circle cx="320.0" cy="1021.8" r="2.9"/><circle cx="320.0" cy="1033.4" r="2.9"/><circle cx="320.0" cy="1045.1" r="2.9"/><circle cx="320.0" cy="1056.7" r="2.9"/><circle cx="320.0" cy="1068.4" r="2.9"/><circle cx="320.0" cy="1080.0" r="2.9"/><circle cx="38.7" cy="1091" r="2.9"/><circle cx="315" cy="1089" r="2.9"/><circle cx="319.0" cy="938.0" r="2.9"/><circle cx="330.1" cy="938.0" r="2.9"/><circle cx="341.2" cy="938.0" r="2.9"/><circle cx="352.3" cy="938.0" r="2.9"/><circle cx="363.4" cy="938.0" r="2.9"/><circle cx="374.5" cy="938.0" r="2.9"/><circle cx="385.6" cy="938.0" r="2.9"/><circle cx="396.7" cy="938.0" r="2.9"/><circle cx="407.8" cy="938.0" r="2.9"/><circle cx="418.9" cy="938.0" r="2.9"/><circle cx="430.0" cy="938.0" r="2.9"/><circle cx="640.0" cy="1049.0" r="2.9"/><circle cx="652.6" cy="1049.0" r="2.9"/><circle cx="665.2" cy="1049.0" r="2.9"/><circle cx="677.8" cy="1049.0" r="2.9"/><circle cx="690.4" cy="1049.0" r="2.9"/><circle cx="703.0" cy="1049.0" r="2.9"/><circle cx="732.5" cy="1024.0" r="2.9"/><circle cx="743.8" cy="1024.0" r="2.9"/><circle cx="755.0" cy="1024.0" r="2.9"/><circle cx="766.2" cy="1024.0" r="2.9"/><circle cx="777.5" cy="1024.0" r="2.9"/><circle cx="788.8" cy="1024.0" r="2.9"/><circle cx="800.0" cy="1024.0" r="2.9"/><circle cx="811.2" cy="1024.0" r="2.9"/><circle cx="822.5" cy="1024.0" r="2.9"/><circle cx="833.8" cy="1024.0" r="2.9"/><circle cx="845.0" cy="1024.0" r="2.9"/><circle cx="856.2" cy="1024.0" r="2.9"/><circle cx="867.5" cy="1024.0" r="2.9"/><circle cx="878.8" cy="1024.0" r="2.9"/><circle cx="890.0" cy="1024.0" r="2.9"/><circle cx="901.2" cy="1024.0" r="2.9"/><circle cx="912.5" cy="1024.0" r="2.9"/><circle cx="923.8" cy="1024.0" r="2.9"/><circle cx="935.0" cy="1024.0" r="2.9"/><circle cx="946.2" cy="1024.0" r="2.9"/><circle cx="957.5" cy="1024.0" r="2.9"/><circle cx="732.0" cy="1096.0" r="2.9"/><circle cx="743.5" cy="1096.0" r="2.9"/><circle cx="755.0" cy="1096.0" r="2.9"/><circle cx="766.5" cy="1096.0" r="2.9"/><circle cx="778.0" cy="1096.0" r="2.9"/><circle cx="789.5" cy="1096.0" r="2.9"/><circle cx="801.0" cy="1096.0" r="2.9"/><circle cx="812.5" cy="1096.0" r="2.9"/><circle cx="824.0" cy="1096.0" r="2.9"/><circle cx="835.5" cy="1096.0" r="2.9"/><circle cx="847.0" cy="1096.0" r="2.9"/><circle cx="858.5" cy="1096.0" r="2.9"/><circle cx="870.0" cy="1096.0" r="2.9"/><circle cx="881.5" cy="1096.0" r="2.9"/><circle cx="893.0" cy="1096.0" r="2.9"/><circle cx="904.5" cy="1096.0" r="2.9"/><circle cx="916.0" cy="1096.0" r="2.9"/><circle cx="927.5" cy="1096.0" r="2.9"/><circle cx="939.0" cy="1096.0" r="2.9"/><circle cx="950.5" cy="1096.0" r="2.9"/><circle cx="962.0" cy="1096.0" r="2.9"/><circle cx="715.0" cy="1190.8" r="2.9"/><circle cx="727.1" cy="1190.8" r="2.9"/><circle cx="739.2" cy="1190.8" r="2.9"/><circle cx="751.4" cy="1190.8" r="2.9"/><circle cx="763.5" cy="1190.8" r="2.9"/><circle cx="775.6" cy="1190.8" r="2.9"/><circle cx="787.8" cy="1190.8" r="2.9"/><circle cx="799.9" cy="1190.8" r="2.9"/><circle cx="812.0" cy="1190.8" r="2.9"/><circle cx="812.0" cy="1190.8" r="2.9"/><circle cx="812.0" cy="1202.0" r="2.9"/><circle cx="812.0" cy="1213.2" r="2.9"/><circle cx="812.0" cy="1224.4" r="2.9"/><circle cx="812.0" cy="1235.7" r="2.9"/><circle cx="812.0" cy="1246.9" r="2.9"/><circle cx="812.0" cy="1258.1" r="2.9"/><circle cx="812.0" cy="1269.3" r="2.9"/><circle cx="812.0" cy="1280.5" r="2.9"/><circle cx="812.0" cy="1291.7" r="2.9"/><circle cx="812.0" cy="1302.9" r="2.9"/><circle cx="812.0" cy="1314.1" r="2.9"/><circle cx="812.0" cy="1325.4" r="2.9"/><circle cx="812.0" cy="1336.6" r="2.9"/><circle cx="812.0" cy="1347.8" r="2.9"/><circle cx="812.0" cy="1359.0" r="2.9"/><circle cx="812.0" cy="1190.8" r="2.9"/><circle cx="818.5" cy="1181.4" r="2.9"/><circle cx="825.0" cy="1172.0" r="2.9"/><circle cx="812.0" cy="1359.0" r="2.9"/><circle cx="822.0" cy="1359.0" r="2.9"/><circle cx="356.5" cy="1524.0" r="2.9"/><circle cx="356.5" cy="1535.8" r="2.9"/><circle cx="356.5" cy="1547.7" r="2.9"/><circle cx="356.5" cy="1559.5" r="2.9"/><circle cx="356.5" cy="1571.3" r="2.9"/><circle cx="356.5" cy="1583.2" r="2.9"/><circle cx="356.5" cy="1595.0" r="2.9"/><circle cx="257.5" cy="1599.0" r="2.9"/><circle cx="268.8" cy="1599.0" r="2.9"/><circle cx="280.1" cy="1599.0" r="2.9"/><circle cx="291.4" cy="1599.0" r="2.9"/><circle cx="302.7" cy="1599.0" r="2.9"/><circle cx="314.0" cy="1599.0" r="2.9"/><circle cx="325.3" cy="1599.0" r="2.9"/><circle cx="336.6" cy="1599.0" r="2.9"/><circle cx="347.9" cy="1599.0" r="2.9"/><circle cx="359.2" cy="1599.0" r="2.9"/><circle cx="370.5" cy="1599.0" r="2.9"/><circle cx="381.8" cy="1599.0" r="2.9"/><circle cx="393.1" cy="1599.0" r="2.9"/><circle cx="404.4" cy="1599.0" r="2.9"/><circle cx="415.7" cy="1599.0" r="2.9"/><circle cx="427.0" cy="1599.0" r="2.9"/><circle cx="438.3" cy="1599.0" r="2.9"/><circle cx="449.6" cy="1599.0" r="2.9"/><circle cx="460.9" cy="1599.0" r="2.9"/><circle cx="472.2" cy="1599.0" r="2.9"/><circle cx="483.5" cy="1599.0" r="2.9"/><circle cx="494.8" cy="1599.0" r="2.9"/><circle cx="506.1" cy="1599.0" r="2.9"/><circle cx="517.4" cy="1599.0" r="2.9"/><circle cx="528.7" cy="1599.0" r="2.9"/><circle cx="540.0" cy="1599.0" r="2.9"/><circle cx="257.0" cy="1673.5" r="2.9"/><circle cx="268.5" cy="1673.5" r="2.9"/><circle cx="280.0" cy="1673.5" r="2.9"/><circle cx="291.4" cy="1673.5" r="2.9"/><circle cx="302.9" cy="1673.5" r="2.9"/><circle cx="314.4" cy="1673.5" r="2.9"/><circle cx="325.9" cy="1673.5" r="2.9"/><circle cx="337.4" cy="1673.5" r="2.9"/><circle cx="348.8" cy="1673.5" r="2.9"/><circle cx="360.3" cy="1673.5" r="2.9"/><circle cx="371.8" cy="1673.5" r="2.9"/><circle cx="383.3" cy="1673.5" r="2.9"/><circle cx="394.8" cy="1673.5" r="2.9"/><circle cx="406.2" cy="1673.5" r="2.9"/><circle cx="417.7" cy="1673.5" r="2.9"/><circle cx="429.2" cy="1673.5" r="2.9"/><circle cx="440.7" cy="1673.5" r="2.9"/><circle cx="452.2" cy="1673.5" r="2.9"/><circle cx="463.6" cy="1673.5" r="2.9"/><circle cx="475.1" cy="1673.5" r="2.9"/><circle cx="486.6" cy="1673.5" r="2.9"/><circle cx="498.1" cy="1673.5" r="2.9"/><circle cx="509.6" cy="1673.5" r="2.9"/><circle cx="521.0" cy="1673.5" r="2.9"/><circle cx="532.5" cy="1673.5" r="2.9"/><circle cx="544.0" cy="1673.5" r="2.9"/></g></svg>
<div class="t lb" style="left:915.2px;top:442.3px;font-size:21.6px;color:#1c1c1c;font-weight:500;">空港广场</div><div class="t lb" style="left:912.7px;top:481.8px;font-size:21.6px;color:#1c1c1c;font-weight:500;">双凤桥</div><div class="t lb" style="left:888.7px;top:540.9px;font-size:21.6px;color:#1c1c1c;font-weight:500;">碧津</div><div class="t lb" style="left:1086.7px;top:563.6px;font-size:21px;color:#1c1c1c;font-weight:500;">江北机场T2航站楼</div><div class="t lb" style="left:569.7px;top:570.9px;font-size:21.6px;color:#1c1c1c;font-weight:500;">翠云</div><div class="t lb" style="left:629.7px;top:570.9px;font-size:21.6px;color:#1c1c1c;font-weight:500;">长福路</div><div class="t lb" style="left:704.3px;top:570.9px;font-size:21.6px;color:#1c1c1c;font-weight:500;">回兴</div><div class="t lb" style="left:824.7px;top:570.3px;font-size:21.6px;color:#1c1c1c;font-weight:500;">双龙</div><div class="t lb" style="left:590.2px;top:625.3px;font-size:21.6px;color:#1c1c1c;font-weight:500;">园博园</div><div class="t lb" style="left:590.2px;top:652.3px;font-size:21.6px;color:#1c1c1c;font-weight:500;">鸳鸯</div><div class="t lb" style="left:589.7px;top:682.3px;font-size:21.6px;color:#1c1c1c;font-weight:500;">金童路</div><div class="t lb" style="left:589.7px;top:710.9px;font-size:21.6px;color:#1c1c1c;font-weight:500;">金渝</div><div class="t lb" style="left:589.7px;top:737.3px;font-size:21.6px;color:#1c1c1c;font-weight:500;">童家院子</div><div class="t lb" style="left:491.2px;top:744.1px;font-size:21.6px;color:#1c1c1c;font-weight:500;">龙头寺</div><div class="t lb" style="left:385.3px;top:787.3px;font-size:21.6px;color:#1c1c1c;font-weight:500;">郑家院子</div><div class="t lb" style="left:491.2px;top:787.3px;font-size:21.6px;color:#1c1c1c;font-weight:500;">狮子坪</div><div class="t lb" style="left:588.7px;top:787.3px;font-size:21.6px;color:#1c1c1c;font-weight:500;">重庆北站南广场</div><div class="t lb" style="left:353.7px;top:832.3px;font-size:21.6px;color:#1c1c1c;font-weight:500;">嘉州路</div><div class="t lb" style="left:471.7px;top:841.3px;font-size:21.6px;color:#1c1c1c;font-weight:500;">唐家院子</div><div class="t lb" style="left:455.7px;top:880.3px;font-size:21.6px;color:#1c1c1c;font-weight:500;">红旗河沟</div><div class="t lb" style="left:460.7px;top:920.0px;font-size:21.6px;color:#1c1c1c;font-weight:500;">观音桥</div><div class="t lb" style="left:495.7px;top:953.9px;font-size:21.6px;color:#1c1c1c;font-weight:500;">华新街</div><div class="t lb" style="left:535.4px;top:993.3px;font-size:21.6px;color:#1c1c1c;font-weight:500;">牛角沱</div><div class="t lb" style="left:575.7px;top:1039.3px;font-size:21.6px;color:#1c1c1c;font-weight:500;">两路口</div><div class="t lb" style="left:481.3px;top:1110.1px;font-size:21.6px;color:#1c1c1c;font-weight:500;">铜元局</div><div class="t lb" style="left:522.4px;top:1135.3px;font-size:21.6px;color:#1c1c1c;font-weight:500;">工贸</div><div class="t lb" style="left:550.3px;top:1163.3px;font-size:21.6px;color:#1c1c1c;font-weight:500;">南坪</div><div class="t lb" style="left:651.3px;top:1180.3px;font-size:21.6px;color:#1c1c1c;font-weight:500;">四公里</div><div class="t lb" style="left:650.7px;top:1215.0px;font-size:21.6px;color:#1c1c1c;font-weight:500;">重庆工商大学</div><div class="t lb" style="left:651.3px;top:1247.3px;font-size:21.6px;color:#1c1c1c;font-weight:500;">六公里</div><div class="t lb" style="left:651.3px;top:1278.8px;font-size:21.6px;color:#1c1c1c;font-weight:500;">重庆交通大学</div><div class="t lb" style="left:651.3px;top:1309.3px;font-size:21.6px;color:#1c1c1c;font-weight:500;">八公里</div><div class="t lb" style="left:651.3px;top:1338.1px;font-size:21.6px;color:#1c1c1c;font-weight:500;">麒龙</div><div class="t lb" style="left:638.7px;top:1375.8px;font-size:21.6px;color:#1c1c1c;font-weight:500;">九公里</div><div class="t lb" style="left:602.7px;top:1410.0px;font-size:21.6px;color:#1c1c1c;font-weight:500;">岔路口</div><div class="t lb" style="left:582.7px;top:1436.9px;font-size:21.6px;color:#1c1c1c;font-weight:500;">花溪</div><div class="t lb" style="left:548.7px;top:1463.9px;font-size:21.6px;color:#1c1c1c;font-weight:500;">大山村</div><div class="t lb" style="left:335.7px;top:1498.0px;font-size:21.6px;color:#1c1c1c;font-weight:500;">鱼洞</div><div class="t v lb" style="left:1050.5px;top:456.5px;width:21px;font-size:21px;line-height:19.8px;color:#1c1c1c;font-weight:500;">高<br>保<br>湖</div><div class="t v lb" style="left:1101.1px;top:456.5px;width:21px;font-size:21px;line-height:19.8px;color:#1c1c1c;font-weight:500;">观<br>月<br>路</div><div class="t v lb" style="left:1147.1px;top:456.5px;width:21px;font-size:21px;line-height:19.8px;color:#1c1c1c;font-weight:500;">莲<br>花</div><div class="t v lb" style="left:1198.0px;top:456.5px;width:21px;font-size:21px;line-height:19.8px;color:#1c1c1c;font-weight:500;">举<br>人<br>坝</div><div class="t v lb" style="left:395.3px;top:1424.2px;width:21px;font-size:21px;line-height:19.8px;color:#1c1c1c;font-weight:500;">金<br>竹</div><div class="t v lb" style="left:442.8px;top:1404.9px;width:21px;font-size:21px;line-height:19.8px;color:#1c1c1c;font-weight:500;">鱼<br>胡<br>路</div><div class="t v lb" style="left:490.8px;top:1405.5px;width:21px;font-size:21px;line-height:19.8px;color:#1c1c1c;font-weight:500;">学<br>堂<br>湾</div>
<div class="box" style="left:548px;top:507px;width:229.5px;height:60px"></div><svg class="st" style="left:550px;top:506.5px" width="59" height="59"><use href="#star"/></svg><div class="t w" style="left:605.8px;top:518.3px;font-size:42px">碧津公园</div><div class="box" style="left:172px;top:605px;width:298px;height:67px"></div><svg class="st" style="left:173px;top:603px" width="67.6" height="67.6"><use href="#star"/></svg><div class="t w" style="left:236.8px;top:617.4px;font-size:46px">重庆园博园</div><div class="box" style="left:895px;top:695.5px;width:338px;height:66.10000000000002px"></div><svg class="st" style="left:896px;top:694.3px" width="65.4" height="65.4"><use href="#star"/></svg><div class="t w" style="left:956.8px;top:707.9px;font-size:45px">重庆江北机场</div><div class="box" style="left:842px;top:782.4px;width:253px;height:67.10000000000002px"></div><svg class="st" style="left:845px;top:782px" width="65" height="65"><use href="#star"/></svg><div class="t w" style="left:905.8px;top:794.4px;font-size:46px">重庆北站</div><div class="box" style="left:35.5px;top:800.6px;width:299.0px;height:67.10000000000002px"></div><div class="box" style="left:40.5px;top:911px;width:273.5px;height:181.79999999999995px"></div><svg class="st" style="left:42.2px;top:911px" width="52" height="52"><use href="#star"/></svg><div class="t w" style="left:89.3px;top:920.8px;font-size:36.6px">观音桥好吃街</div><svg class="st" style="left:42.2px;top:954.9px" width="52" height="52"><use href="#star"/></svg><div class="t w" style="left:89.3px;top:963.8px;font-size:36.6px">观音桥步行街</div><svg class="st" style="left:42.2px;top:998.3px" width="52" height="52"><use href="#star"/></svg><div class="t w" style="left:89.3px;top:1008.6px;font-size:36.6px">不夜九街</div><svg class="st" style="left:42.2px;top:1041.5px" width="52" height="52"><use href="#star"/></svg><div class="t w" style="left:89.3px;top:1051.6px;font-size:36.6px">北仓文创园</div><div class="box" style="left:702.8px;top:1027px;width:298.20000000000005px;height:66.75px"></div><svg class="st" style="left:704px;top:1025.3px" width="67.3" height="67.3"><use href="#star"/></svg><div class="t w" style="left:765.8px;top:1039.4px;font-size:46px">皇冠大扶梯</div><div class="box" style="left:825px;top:1154px;width:366.4000000000001px;height:218.4000000000001px"></div><svg class="st" style="left:828px;top:1152.5px" width="61" height="61"><use href="#star"/></svg><div class="t w" style="left:883.8px;top:1165.1px;font-size:43.5px">南山一棵树</div><svg class="st" style="left:828px;top:1204.5px" width="61" height="61"><use href="#star"/></svg><div class="t w" style="left:883.8px;top:1217.1px;font-size:43.5px">壹华里夜景公园</div><svg class="st" style="left:828px;top:1306px" width="61" height="61"><use href="#star"/></svg><div class="t w" style="left:883.8px;top:1318.6px;font-size:43.5px">老君洞</div><div class="box" style="left:236px;top:1602.5px;width:330px;height:62.5px"></div><svg class="st" style="left:237.4px;top:1599.6px" width="65" height="65"><use href="#star"/></svg><div class="t w" style="left:296.8px;top:1613.3px;font-size:44px">鱼洞老街公园</div>
</body></html>
